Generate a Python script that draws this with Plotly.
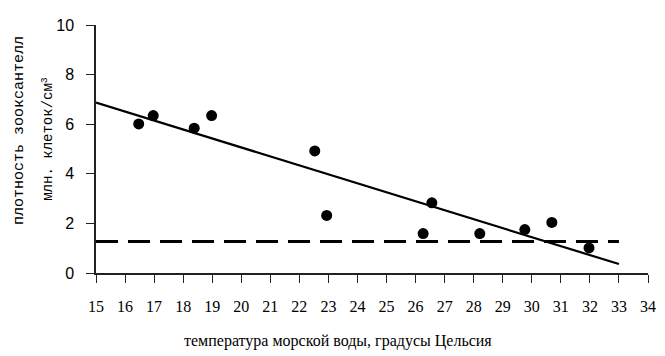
import plotly.graph_objects as go

temperature = [16.47, 16.97, 18.38, 18.98, 22.53, 22.94, 26.26, 26.56, 28.21, 29.76, 30.69, 31.97]
density = [6.01, 6.35, 5.84, 6.35, 4.92, 2.32, 1.59, 2.83, 1.59, 1.75, 2.04, 1.01]
trend_x = [15, 33]
trend_y = [6.87, 0.36]
threshold_x = [15, 33]
threshold_y = [1.27, 1.27]
x_ticks = list(range(15, 35))
y_ticks = [0, 2, 4, 6, 8, 10]

fig = go.Figure()
fig.add_trace(go.Scatter(x=trend_x, y=trend_y, mode="lines",
                         line=dict(color="black", width=2.2), showlegend=False))
fig.add_trace(go.Scatter(x=threshold_x, y=threshold_y, mode="lines",
                         line=dict(color="black", width=3, dash="22px,10px"), showlegend=False))
fig.add_trace(go.Scatter(x=temperature, y=density, mode="markers",
                         marker=dict(color="black", size=11), showlegend=False))

serif = "Liberation Serif"
mono = "Liberation Mono"
sans = "Liberation Sans"
fig.update_layout(
    width=657, height=348,
    margin=dict(l=88, r=9, t=15, b=83, pad=0),
    paper_bgcolor="white", plot_bgcolor="white",
    font=dict(family=serif, size=16, color="black"),
    xaxis=dict(range=[15, 34], tickvals=x_ticks, ticktext=[str(v) for v in x_ticks],
               showgrid=False, zeroline=False, showline=True, linecolor="#222", linewidth=1.5,
               ticks="outside", ticklen=8, tickcolor="#222", tickwidth=1.3,
               ticklabelstandoff=10,
               tickfont=dict(family=serif, size=16)),
    yaxis=dict(range=[0, 10], tickvals=y_ticks, ticktext=[str(v) for v in y_ticks],
               showgrid=False, zeroline=False, showline=True, linecolor="#222", linewidth=1.5,
               ticks="outside", ticklen=8, tickcolor="#222", tickwidth=1.3,
               ticklabelstandoff=9,
               tickfont=dict(family=sans, size=16)),
    annotations=[
        dict(text="температура морской воды, градусы Цельсия", xref="paper", yref="paper",
             x=0.439, y=-0.276, xanchor="center", yanchor="middle", showarrow=False,
             font=dict(family=serif, size=16)),
        dict(text="плотность зооксантелл", xref="paper", yref="paper",
             x=-0.139, y=0.574, xanchor="center", yanchor="middle", showarrow=False,
             textangle=-90, font=dict(family=mono, size=15)),
        dict(text="млн. клеток/см<sup>3</sup>", xref="paper", yref="paper",
             x=-0.0875, y=0.54, xanchor="center", yanchor="middle", showarrow=False,
             textangle=-90, font=dict(family=mono, size=14)),
    ],
)
fig.write_html("out.html")
